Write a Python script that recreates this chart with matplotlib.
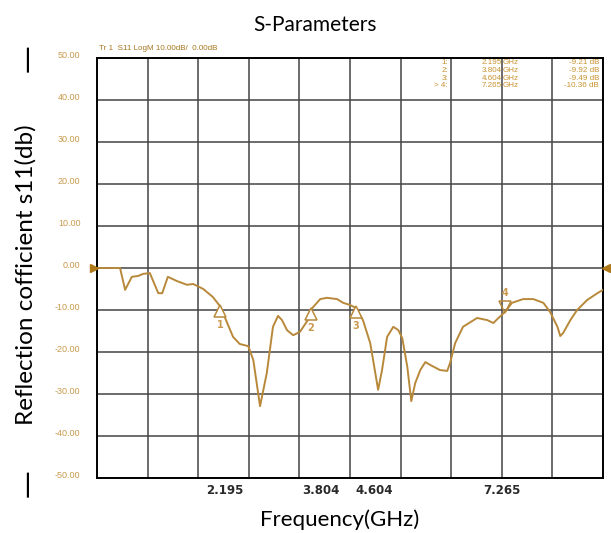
import numpy as np
import matplotlib
matplotlib.use("Agg")
import matplotlib.pyplot as plt
from matplotlib.transforms import ScaledTranslation

# trace (GHz, dB)
freq = [0.0, 0.41, 0.50, 0.62, 0.73, 0.82, 0.94, 1.09, 1.16, 1.26, 1.42, 1.60, 1.71,
        1.89, 2.06, 2.195, 2.31, 2.42, 2.54, 2.69, 2.78, 2.90, 3.02, 3.13, 3.22, 3.29,
        3.38, 3.49, 3.61, 3.75, 3.804, 3.97, 4.09, 4.27, 4.38, 4.50, 4.604, 4.73, 4.86,
        4.95, 5.00, 5.07, 5.16, 5.27, 5.36, 5.43, 5.52, 5.59, 5.66, 5.75, 5.84, 5.93,
        6.10, 6.23, 6.28, 6.37, 6.51, 6.76, 6.94, 7.05, 7.14, 7.265, 7.38, 7.58, 7.76,
        7.94, 8.06, 8.19, 8.24, 8.29, 8.42, 8.54, 8.72, 8.90, 9.0]
s11 = [0.0, 0.0, -5.2, -2.1, -1.9, -1.4, -1.2, -6.0, -6.0, -2.1, -3.1, -4.0, -3.8,
       -5.0, -6.9, -9.21, -12.9, -16.4, -18.1, -18.6, -21.9, -32.9, -25.0, -14.0, -11.4, -12.4,
       -14.8, -16.0, -15.2, -12.4, -9.92, -7.4, -7.1, -7.4, -8.3, -8.8, -9.49, -12.4, -17.9,
       -25.0, -29.0, -24.3, -16.4, -14.0, -14.8, -16.7, -23.6, -31.7, -27.4, -24.3, -22.4, -23.1,
       -24.3, -24.5, -22.6, -17.9, -14.0, -11.9, -12.4, -13.1, -11.9, -10.36, -8.3, -7.4, -7.4,
       -8.3, -10.5, -14.0, -16.2, -15.5, -12.4, -10.0, -7.6, -6.0, -5.2]

marker_ids = ["1", "2", "3", "> 4"]
marker_freq = [2.195, 3.804, 4.604, 7.265]
marker_db = [-9.21, -9.92, -9.49, -10.36]
yticks = list(range(-50, 51, 10))

trace_c = "#b8893a"
tick_c = "#c99a4d"
hdr_c = "#a8761e"

fig = plt.figure(figsize=(6.11, 5.33), dpi=100)
ax = fig.add_axes([97/611, 55/533, 506/611, 420/533])
ax.set_xlim(0, 9)
ax.set_ylim(-50, 50)

# graticule: 10 x 10 divisions
ax.set_xticks(np.linspace(0, 9, 11), minor=True)
ax.grid(which="minor", axis="x", color="#444444", lw=1.1)
ax.set_yticks(yticks)
ax.set_yticklabels([f"{v:.2f}" for v in yticks], fontsize=6.5, color=tick_c,
                   family="Liberation Sans")
ax.grid(which="major", axis="y", color="#444444", lw=1.1)
ax.tick_params(axis="y", length=0, pad=12)
ax.tick_params(which="minor", length=0)
up = ScaledTranslation(0, 0.04, fig.dpi_scale_trans)
for lab in ax.get_yticklabels():
    lab.set_transform(lab.get_transform() + up)

ax.set_xticks(marker_freq)
ax.set_xticklabels([f"{f:.3f}" for f in marker_freq], fontsize=8.5, fontweight="bold",
                   color="#2a2a2a", family="DejaVu Sans")
ax.tick_params(axis="x", length=0, pad=4)
for lab, dx in zip(ax.get_xticklabels(), [4, 10, 18, -4]):
    lab.set_transform(lab.get_transform() + ScaledTranslation(dx/100, 0, fig.dpi_scale_trans))

for s in ax.spines.values():
    s.set_color("black")
    s.set_linewidth(1.4)

ax.plot(freq, s11, color=trace_c, lw=1.4, zorder=3)

# reference level arrows
ax.plot([0], [0], marker=">", color="#b07a1a", ms=6, clip_on=False, zorder=4,
        transform=ax.transData + ScaledTranslation(-0.03, 0, fig.dpi_scale_trans))
ax.plot([9], [0], marker="<", color="#b07a1a", ms=6, clip_on=False, zorder=4,
        transform=ax.transData + ScaledTranslation(0.03, 0, fig.dpi_scale_trans))

# markers
for i, (f, v) in enumerate(zip(marker_freq, marker_db)):
    if i < 3:
        ax.plot([f], [v], marker="^", ms=9, mfc="white", mec=trace_c, mew=1.1, zorder=4,
                transform=ax.transData + ScaledTranslation(0, -0.045, fig.dpi_scale_trans))
        ax.annotate(str(i + 1), (f, v), xytext=(0, -13), textcoords="offset points",
                    ha="center", va="center", fontsize=7, color=tick_c, fontweight="bold")
    else:
        ax.plot([f], [v], marker="v", ms=9, mfc="none", mec=trace_c, mew=1.1, zorder=4,
                transform=ax.transData + ScaledTranslation(0, 0.045, fig.dpi_scale_trans))
        ax.annotate(str(i + 1), (f, v), xytext=(0, 13), textcoords="offset points",
                    ha="center", va="center", fontsize=7, color=tick_c, fontweight="bold")

# marker readout table
rows_y = [63, 70.5, 78, 85.5]
for mid, f, v, y in zip(marker_ids, marker_freq, marker_db, rows_y):
    yy = 1 - y/533
    kw = dict(fontsize=5.8, color="#c8922e", family="Liberation Sans", va="center")
    fig.text(448/611, yy, mid + ":", ha="right", **kw)
    fig.text(502/611, yy, f"{f:.3f}", ha="right", **kw)
    fig.text(503/611, yy, "GHz", ha="left", **kw)
    fig.text(599/611, yy, f"{v:.2f} dB", ha="right", **kw)

fig.text(99/611, 1 - 48/533, "Tr 1  S11 LogM 10.00dB/  0.00dB", fontsize=5.8,
         color=hdr_c, family="Liberation Sans", va="center")

fig.text(315/611, 1 - 25/533, "S-Parameters", fontsize=15, family="Lato",
         ha="center", va="center")
fig.text(340/611, 1 - 520/533, "Frequency(GHz)", fontsize=16, family="Lato",
         ha="center", va="center")
fig.text(26/611, 1 - 275/533, "Reflection cofficient s11(db)", fontsize=17.5,
         family="Lato", rotation=90, ha="center", va="center")
for yy in [58, 483]:
    fig.text(28/611, 1 - yy/533, "\u2014", fontsize=20, family="DejaVu Sans",
             rotation=90, ha="center", va="center")

fig.savefig("out.png", dpi=100)
